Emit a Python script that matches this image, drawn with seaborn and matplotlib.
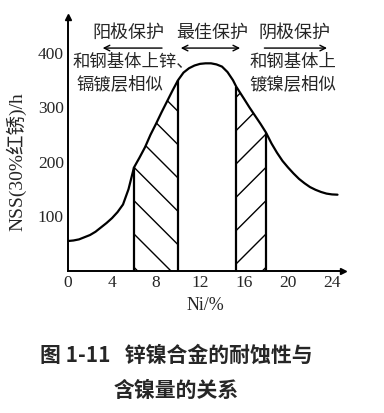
import numpy as np
import pandas as pd
import matplotlib
matplotlib.use('Agg')
import matplotlib.pyplot as plt
import seaborn as sns

# Ni content (%) and NSS time to 30% red rust (h)
ni = [0, 0.5, 1, 1.5, 2, 2.5, 3, 3.5, 4, 4.5, 5, 5.5, 6, 6.5, 7, 7.5, 8, 8.5, 9, 9.5,
      10, 10.5, 11, 11.5, 12, 12.5, 13, 13.5, 14, 14.5, 15, 15.3, 16, 16.5, 17, 17.5,
      18, 18.5, 19, 19.5, 20, 20.5, 21, 21.5, 22, 22.5, 23, 23.5, 24, 24.5]
nss = [55, 56, 58, 62, 66, 72, 80, 88, 97, 108, 122, 150, 190, 208, 227, 250, 270, 291,
       311, 331, 350, 364, 372, 377, 380, 381, 381, 379, 375, 365, 350, 338, 316, 300,
       285, 270, 254, 234, 217, 202, 190, 179, 169, 161, 154, 149, 145, 142, 140.5, 140]

anode_band = (6, 10)
cathode_band = (15.3, 18)
xticks = [0, 4, 8, 12, 16, 20, 24]
yticks = [100, 200, 300, 400]

zones = ['阳极保护', '最佳保护', '阴极保护']
note_left = ['和钢基体上锌、', '镉镀层相似']
note_right = ['和钢基体上', '镀镍层相似']
caption = ['图 1-11   锌镍合金的耐蚀性与', '含镍量的关系']

if __name__ == "__main__":
    sns.set_style('white')
    serif = ['Liberation Serif', 'Noto Sans CJK SC']
    cjk = ['Noto Sans CJK SC', 'DejaVu Sans']

    df = pd.DataFrame({'Ni': ni, 'NSS': nss})

    fig = plt.figure(figsize=(3.84, 4.13), dpi=100)
    ax = fig.add_axes([68 / 384, 142 / 413, 275 / 384, 254 / 413])

    sns.lineplot(data=df, x='Ni', y='NSS', ax=ax, color='black', linewidth=1.6)

    x = np.array(ni)
    y = np.array(nss)
    for (a, b), h in [(anode_band, '\\'), (cathode_band, '/')]:
        sel = (x >= a) & (x <= b)
        ax.fill_between(x[sel], 0, y[sel], hatch=h, facecolor='none',
                        edgecolor='black', linewidth=0)
        for xv in (a, b):
            ax.vlines(xv, 0, np.interp(xv, x, y), color='black', linewidth=1.6)

    ax.set_xlim(0, 25)
    ax.set_ylim(0, 466)
    ax.set_xticks(xticks)
    ax.set_yticks(yticks)
    ax.set_xticklabels([str(t) for t in xticks], family=serif, fontsize=12.5)
    ax.set_yticklabels([str(t) for t in yticks], family=serif, fontsize=12.5)
    ax.tick_params(direction='in', length=4, width=1, color='black', pad=3)

    for s in ['top', 'right']:
        ax.spines[s].set_visible(False)
    for s in ['left', 'bottom']:
        ax.spines[s].set_color('black')
        ax.spines[s].set_linewidth(1.4)
    ax.plot(1, 0, '>k', markersize=5, transform=ax.transAxes, clip_on=False)
    ax.plot(0, 1, '^k', markersize=5, transform=ax.transAxes, clip_on=False)

    ax.set_xlabel('Ni/%', family=serif, fontsize=13, labelpad=4)
    ax.set_ylabel('NSS(30%红锈)/h', family=serif, fontsize=14)
    ax.yaxis.set_label_coords(-0.15, 0.43)

    # zone titles and arrows
    for label, xc in zip(zones, [5.5, 13.1, 20.6]):
        ax.text(xc, 437, label, family=cjk, fontsize=13, ha='center', va='center')
    arw = dict(arrowstyle='->', color='black', lw=1)
    ax.annotate('', xy=(2.9, 409), xytext=(8.8, 409), arrowprops=arw)
    ax.annotate('', xy=(10.0, 409), xytext=(15.9, 409),
                arrowprops=dict(arrowstyle='<->', color='black', lw=1))
    ax.annotate('', xy=(23.8, 409), xytext=(17.6, 409), arrowprops=arw)

    ax.text(0.4, 383, note_left[0], family=cjk, fontsize=12.5, ha='left', va='center')
    ax.text(0.8, 343, note_left[1], family=cjk, fontsize=12.5, ha='left', va='center')
    ax.text(16.5, 383, note_right[0], family=cjk, fontsize=12.5, ha='left', va='center')
    ax.text(16.5, 343, note_right[1], family=cjk, fontsize=12.5, ha='left', va='center')

    fig.text(176 / 384, 1 - 355 / 413, caption[0], family=cjk, fontsize=15,
             fontweight='bold', ha='center', va='center')
    fig.text(176 / 384, 1 - 390 / 413, caption[1], family=cjk, fontsize=15,
             fontweight='bold', ha='center', va='center')

    fig.savefig('out.png', dpi=100)
